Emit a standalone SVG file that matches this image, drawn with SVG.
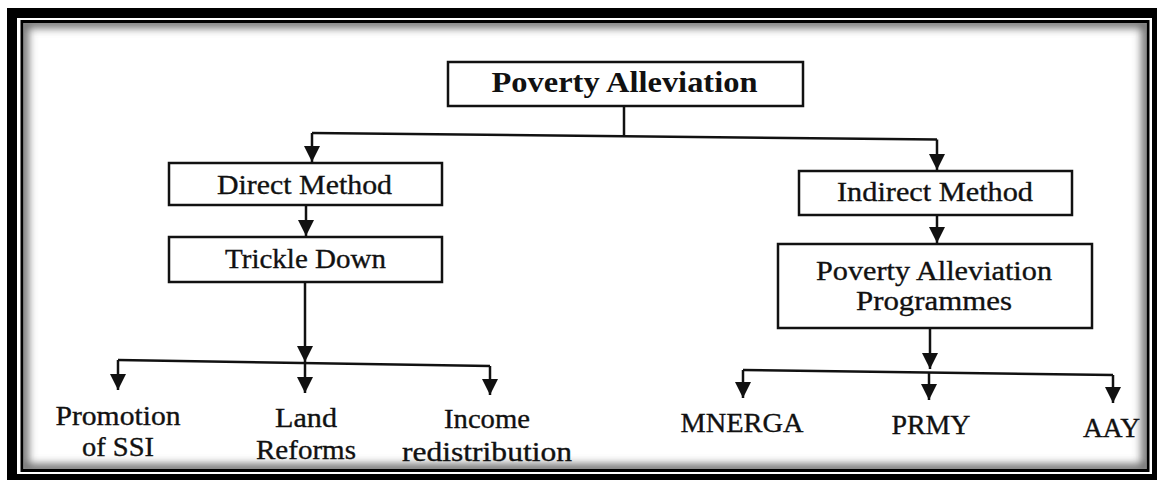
<svg xmlns="http://www.w3.org/2000/svg" width="1161" height="482" viewBox="0 0 1161 482">
  <style>
    .box { fill: #ffffff; stroke: #111111; stroke-width: 2.5; }
    .lbl { font-family: "Liberation Serif", "DejaVu Serif", serif; font-size: 28px; fill: #111111; stroke: #111111; stroke-width: 0.35; text-anchor: middle; }
    .leaf { font-family: "Liberation Serif", "DejaVu Serif", serif; font-size: 27px; fill: #111111; stroke: #111111; stroke-width: 0.35; text-anchor: middle; }
    .title { font-family: "Liberation Serif", "DejaVu Serif", serif; font-size: 30px; font-weight: bold; fill: #111111; text-anchor: middle; }
    .conn { fill: none; stroke: #111111; stroke-width: 2.5; }
  </style>
  <defs>
    <marker id="arr" viewBox="0 0 10 10" refX="10" refY="5" markerWidth="16" markerHeight="17" markerUnits="userSpaceOnUse" orient="auto">
      <path d="M0,0 L10,5 L0,10 z" fill="#111111"/>
    </marker>
    <clipPath id="innerClip">
      <rect x="23.5" y="23" width="1123" height="446"/>
    </clipPath>
    <filter id="soft" x="-5%" y="-5%" width="110%" height="110%">
      <feGaussianBlur stdDeviation="4"/>
    </filter>
  </defs>

  <!-- frame -->
  <rect x="0" y="0" width="1161" height="482" fill="#ffffff"/>
  <rect x="7" y="8" width="1150" height="472" fill="#000000"/>
  <rect x="17" y="18" width="1135" height="456" fill="#ffffff"/>
  <rect x="22" y="21.5" width="1126" height="449" fill="#ffffff" stroke="#000000" stroke-width="3"/>
  <rect x="23.5" y="23" width="1123" height="446" fill="none" stroke="#6a6a6a" stroke-width="10" filter="url(#soft)" clip-path="url(#innerClip)"/>

  <!-- connectors -->
  <g id="connectors">
    <path class="conn" d="M624,106 L624,136"/>
    <path class="conn" d="M312,133 L937,139.5"/>
    <path class="conn" d="M312,133 L312,162" marker-end="url(#arr)"/>
    <path class="conn" d="M937,139.5 L937,170" marker-end="url(#arr)"/>
    <path class="conn" d="M306,205 L306,236" marker-end="url(#arr)"/>
    <path class="conn" d="M305,282 L305,362" marker-end="url(#arr)"/>
    <path class="conn" d="M118,360 L490,366"/>
    <path class="conn" d="M118,360 L118,390" marker-end="url(#arr)"/>
    <path class="conn" d="M305,362 L305,393" marker-end="url(#arr)"/>
    <path class="conn" d="M490,366 L490,395" marker-end="url(#arr)"/>
    <path class="conn" d="M937,215 L937,243" marker-end="url(#arr)"/>
    <path class="conn" d="M930,328 L930,369" marker-end="url(#arr)"/>
    <path class="conn" d="M743,370 L1113,375"/>
    <path class="conn" d="M743,370 L743,398" marker-end="url(#arr)"/>
    <path class="conn" d="M929,372 L929,400" marker-end="url(#arr)"/>
    <path class="conn" d="M1113,375 L1113,403" marker-end="url(#arr)"/>
  </g>

  <!-- nodes -->
  <g id="poverty-alleviation">
    <rect class="box" x="448" y="62" width="355" height="44"/>
    <text class="title" x="624.5" y="92" textLength="266" lengthAdjust="spacingAndGlyphs">Poverty Alleviation</text>
  </g>
  <g id="direct-method">
    <rect class="box" x="169" y="163" width="273" height="42"/>
    <text class="lbl" x="304.5" y="194" textLength="175" lengthAdjust="spacingAndGlyphs">Direct Method</text>
  </g>
  <g id="trickle-down">
    <rect class="box" x="169" y="237" width="273" height="45"/>
    <text class="lbl" x="305.5" y="268" textLength="161" lengthAdjust="spacingAndGlyphs">Trickle Down</text>
  </g>
  <g id="indirect-method">
    <rect class="box" x="799" y="171" width="273" height="44"/>
    <text class="lbl" x="935" y="201" textLength="196" lengthAdjust="spacingAndGlyphs">Indirect Method</text>
  </g>
  <g id="pa-programmes">
    <rect class="box" x="778" y="244" width="314" height="84"/>
    <text class="lbl" x="934" y="280" textLength="236" lengthAdjust="spacingAndGlyphs">Poverty Alleviation</text>
    <text class="lbl" x="934" y="310" textLength="156" lengthAdjust="spacingAndGlyphs">Programmes</text>
  </g>
  <g id="promotion-ssi">
    <text class="leaf" x="118" y="425" textLength="125" lengthAdjust="spacingAndGlyphs">Promotion</text>
    <text class="leaf" x="118" y="456" textLength="72" lengthAdjust="spacingAndGlyphs">of SSI</text>
  </g>
  <g id="land-reforms">
    <text class="leaf" x="306" y="427" textLength="62" lengthAdjust="spacingAndGlyphs">Land</text>
    <text class="leaf" x="306" y="459" textLength="100" lengthAdjust="spacingAndGlyphs">Reforms</text>
  </g>
  <g id="income-redistribution">
    <text class="leaf" x="487" y="428" textLength="86" lengthAdjust="spacingAndGlyphs">Income</text>
    <text class="leaf" x="487" y="461" textLength="170" lengthAdjust="spacingAndGlyphs">redistribution</text>
  </g>
  <g id="mnerga">
    <text class="leaf" x="742" y="432" textLength="123" lengthAdjust="spacingAndGlyphs">MNERGA</text>
  </g>
  <g id="prmy">
    <text class="leaf" x="931" y="434" textLength="79" lengthAdjust="spacingAndGlyphs">PRMY</text>
  </g>
  <g id="aay">
    <text class="leaf" x="1111.5" y="437" textLength="57" lengthAdjust="spacingAndGlyphs">AAY</text>
  </g>
</svg>
